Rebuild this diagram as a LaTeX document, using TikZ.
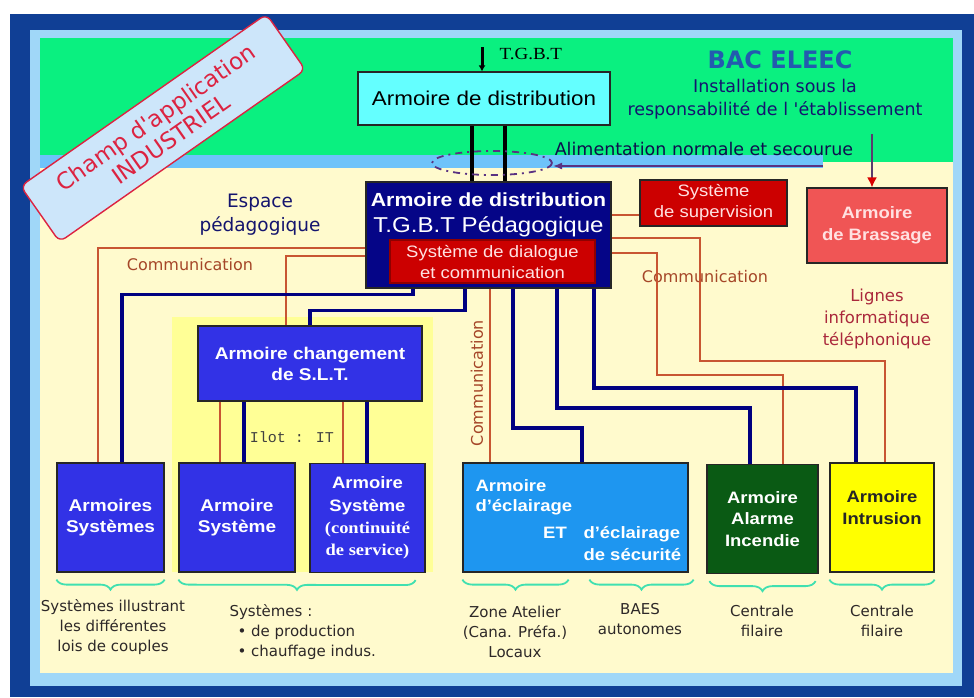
\documentclass[tikz,border=0pt]{standalone}
\usepackage{fontspec}
\setmainfont{Liberation Sans}[FakeStretch=1.12]
\newfontfamily\dvs{DejaVu Sans}
\newfontfamily\lserif{Liberation Serif}[FakeStretch=1.12]
\newfontfamily\lmono{Liberation Mono}
\usetikzlibrary{arrows.meta,decorations.pathreplacing}

\definecolor{frameblue}{RGB}{16,63,149}
\definecolor{rimblue}{RGB}{160,215,248}
\definecolor{topgreen}{RGB}{10,240,128}
\definecolor{stripblue}{RGB}{110,195,250}
\definecolor{cream}{RGB}{255,250,205}
\definecolor{ilotyel}{RGB}{255,255,150}
\definecolor{pwrnavy}{RGB}{0,0,128}
\definecolor{tgbnavy}{RGB}{5,5,135}
\definecolor{commred}{RGB}{200,85,50}
\definecolor{bracegreen}{RGB}{64,224,176}
\definecolor{boxblue}{RGB}{50,50,230}
\definecolor{cyanbox}{RGB}{100,255,255}
\definecolor{deepred}{RGB}{204,0,0}
\definecolor{salmon}{RGB}{240,85,85}
\definecolor{lightblue}{RGB}{30,150,240}
\definecolor{firegreen}{RGB}{10,90,20}
\definecolor{intruyel}{RGB}{255,255,0}
\definecolor{pinkwhite}{RGB}{255,225,225}
\definecolor{labgray}{RGB}{45,40,40}
\definecolor{commtxt}{RGB}{165,70,40}
\definecolor{lignetxt}{RGB}{170,40,60}
\definecolor{navytxt}{RGB}{20,20,110}
\definecolor{bacblue}{RGB}{35,90,175}
\definecolor{champred}{RGB}{220,35,65}
\definecolor{champfill}{RGB}{205,230,250}
\definecolor{alimline}{RGB}{90,50,130}
\definecolor{brassline}{RGB}{90,60,110}

\newcommand{\fsz}[2]{\fontsize{#1}{#2}\selectfont}

\begin{document}
\begin{tikzpicture}[x=1pt,y=-1pt,
  box/.style={draw=black!85,line width=1.2pt,inner sep=0pt},
  pwr/.style={draw=pwrnavy,line width=3.6pt},
  comm/.style={draw=commred,line width=1.3pt},
  feed/.style={draw=black,line width=4pt},
  brc/.style={draw=bracegreen,line width=1.8pt,decorate,decoration={brace,mirror,amplitude=10pt}},
  wbold/.style={text=white,font=\bfseries\fsz{16.5}{21.5},align=center},
  lab/.style={text=labgray,font=\dvs\fsz{15}{20},align=center},
  commlab/.style={text=commtxt,font=\dvs\fsz{16}{18}}]
\useasboundingbox (0,0) rectangle (974,697);

% background frame
\fill[white] (0,0) rectangle (974,697);
\fill[frameblue] (10,14) rectangle (974,697);
\fill[rimblue] (30,30) rectangle (962,686);
\fill[cream] (40,38) rectangle (953,673);
\fill[topgreen] (40,38) rectangle (953,162);
\fill[stripblue] (40,155) rectangle (823,168);
\fill[ilotyel] (172,317) rectangle (433,572);

% cabinets
\node[box,fill=cyanbox,minimum width=252,minimum height=53,font=\fsz{20}{22}] (dist) at (484,98.5) {Armoire de distribution};
\node[box,fill=tgbnavy,minimum width=245,minimum height=106] (tgbtp) at (488.5,235) {};
\node[text=white,font=\bfseries\fsz{19}{20}] (tgbtpa) at (488.5,200) {Armoire de distribution};
\node[text=white,font=\fsz{21.5}{22}] (tgbtpb) at (488.5,227) {T.G.B.T Pédagogique};
\node[box,draw=deepred!70!black,fill=deepred,minimum width=205,minimum height=43,text=pinkwhite,font=\fsz{16.5}{21},align=center] (dialog) at (492.5,261.5) {Système de dialogue\\et communication};
\node[box,fill=deepred,minimum width=147,minimum height=46,text=pinkwhite,font=\fsz{16.5}{21},align=center] (superv) at (713.5,203) {Système\\de supervision};
\node[box,fill=salmon,minimum width=140,minimum height=75,text=pinkwhite,font=\bfseries\fsz{16.5}{22},align=center] (brass) at (877,225.5) {Armoire\\de Brassage};
\node[box,fill=boxblue,minimum width=224,minimum height=75,wbold,font=\bfseries\fsz{17}{21}] (chg) at (310,363.5) {Armoire changement\\de S.L.T.};
\node[box,fill=boxblue,minimum width=107,minimum height=109,wbold,font=\bfseries\fsz{17}{21.5}] (armsys) at (110.5,517.5) {Armoires\\Systèmes};
\node[box,fill=boxblue,minimum width=116,minimum height=109,wbold,font=\bfseries\fsz{17}{21.5}] (asys1) at (237,517.5) {Armoire\\Système};
\node[box,fill=boxblue,minimum width=115,minimum height=109,wbold,font=\bfseries\fsz{16.5}{22.3}] (asys2) at (367.5,518) {Armoire\\Système\\{\lserif(continuité}\\{\lserif de service)}};
\node[box,fill=lightblue,minimum width=225,minimum height=109] (eclair) at (575.5,517.5) {};
\node[text=white,font=\bfseries\fsz{16.5}{20},align=left,anchor=west] (ecla) at (472,497) {Armoire\\d'éclairage};
\node[text=white,font=\bfseries\fsz{16.5}{20}] (eclet) at (555,533) {ET};
\node[text=white,font=\bfseries\fsz{16.5}{22},align=left,anchor=west] (eclb) at (580,544) {d'éclairage\\de sécurité};
\node[box,fill=firegreen,minimum width=111,minimum height=109,wbold] (alarme) at (762.5,519) {Armoire\\Alarme\\Incendie};
\node[box,fill=intruyel,minimum width=104,minimum height=109] (intru) at (882,517.5) {};
\node[text=black!85,font=\bfseries\fsz{16.5}{22},align=center] (intrut) at (882,508) {Armoire\\Intrusion};

% rotated title
\node[draw=champred,line width=1.4pt,fill=champfill,rounded corners=7pt,rotate=35,minimum width=300,minimum height=68,inner sep=0pt,text=champred,font=\dvs\fsz{23}{26},align=center] (champ) at (163,128) {Champ d'application\\INDUSTRIEL};

% incoming supply
\coordinate (tgbtin) at (482,47);
\draw[-{Latex[length=6pt,width=7pt]},line width=3pt] (tgbtin) -- (dist.north -| tgbtin);
\node[font=\lserif\fsz{17}{18},anchor=west] (tgbtlab) at (496,54) {T.G.B.T};
\draw[feed] (dist.south -| 472,0) -- (tgbtp.north -| 472,0);
\draw[feed] (dist.south -| 505,0) -- (tgbtp.north -| 505,0);
\draw[draw=alimline,line width=1.8pt,dash pattern=on 7pt off 5pt on 2pt off 5pt] (492,163) ellipse (60 and 12);
\coordinate (alimstart) at (823,166);
\draw[-{Latex[length=9pt,width=7pt]},draw=alimline,line width=1.6pt] (alimstart) -- (553,166);
\node[font=\dvs\fsz{17.5}{19},text=navytxt!70!black] (alim) at (704,149) {Alimentation normale et secourue};
\coordinate (brassin) at (872,134);
\draw[-{Latex[length=10pt,width=10pt,color=red!85!black]},draw=brassline,line width=1.6pt] (brassin) -- (brass.north -| brassin);

% texts
\node[font=\dvs\bfseries\fsz{24}{26},text=bacblue] (bac) at (780,60) {BAC ELEEC};
\node[font=\dvs\fsz{17.5}{23},text=navytxt,align=center] (resp) at (775,99) {Installation sous la\\responsabilité de l 'établissement};
\node[font=\dvs\fsz{18.5}{24},text=navytxt,align=center] (espace) at (260,215) {Espace\\pédagogique};
\node[commlab] (comml) at (190,265) {Communication};
\node[commlab] (commr) at (705,277) {Communication};
\node[commlab,rotate=90] (commv) at (477,383) {Communication};
\node[font=\dvs\fsz{16.5}{22},text=lignetxt,align=center] (lignes) at (877,319) {Lignes\\informatique\\téléphonique};
\node[font=\lmono\fsz{15}{17},text=black!75] (ilot) at (292,437) {Ilot : IT};

% communication links
\draw[comm] (tgbtp.west |- 0,248) -| (armsys.north -| 98,0);
\draw[comm] (tgbtp.west |- 0,256) -| (chg.north -| 286,0);
\draw[comm] (tgbtp.east |- 0,215) -- (superv.west |- 0,215);
\draw[comm] (tgbtp.east |- 0,238) -| (700,361) -| (intru.north -| 885,0);
\draw[comm] (tgbtp.east |- 0,253) -| (657,375) -| (alarme.north -| 783,0);
\draw[comm] (tgbtp.south -| 490,0) -- (eclair.north -| 490,0);
\draw[comm] (chg.south -| 220,0) -- (asys1.north -| 220,0);
\draw[comm] (chg.south -| 343,0) -- (asys2.north -| 343,0);

% power links
\draw[pwr] (tgbtp.south -| 413,0) -- ++(0,6) -| (armsys.north -| 122,0);
\draw[pwr] (tgbtp.south -| 465,0) -- ++(0,22) -| (chg.north -| 310,0);
\draw[pwr] (tgbtp.south -| 513,0) |- (582,428) -- (eclair.north -| 582,0);
\draw[pwr] (tgbtp.south -| 557,0) |- (750,408) -- (alarme.north -| 750,0);
\draw[pwr] (tgbtp.south -| 594,0) |- (856,388) -- (intru.north -| 856,0);
\draw[pwr] (chg.south -| 244,0) -- (asys1.north -| 244,0);
\draw[pwr] (chg.south -| 367,0) -- (asys2.north -| 367,0);

% braces and notes
\draw[brc] ([yshift=-7pt]armsys.south west) -- ([yshift=-7pt]armsys.south east);
\draw[brc] ([yshift=-7pt]asys1.south west) -- ([yshift=-7pt,xshift=-10pt]asys2.south east);
\draw[brc] ([yshift=-7pt]eclair.south west) -- ([yshift=-7pt,xshift=-120pt]eclair.south east);
\draw[brc] ([yshift=-7pt,xshift=127pt]eclair.south west) -- ([yshift=-7pt,xshift=5pt]eclair.south east);
\draw[brc] ([yshift=-7pt,xshift=3pt]alarme.south west) -- ([yshift=-7pt,xshift=-3pt]alarme.south east);
\draw[brc] ([yshift=-7pt]intru.south west) -- ([yshift=-7pt]intru.south east);
\node[lab] (labcouple) at (113,627) {Systèmes illustrant\\les différentes\\lois de couples};
\node[lab,align=left,anchor=north west] (labprod) at (226,601) {Systèmes :\\\hspace*{8pt}• de production\\\hspace*{8pt}• chauffage indus.};
\node[lab] (labzone) at (515,632) {Zone Atelier\\(Cana. Préfa.)\\Locaux};
\node[lab] (labbaes) at (640,619) {BAES\\autonomes};
\node[lab] (labcent1) at (762,621) {Centrale\\filaire};
\node[lab] (labcent2) at (882,621) {Centrale\\filaire};
\end{tikzpicture}
\end{document}
